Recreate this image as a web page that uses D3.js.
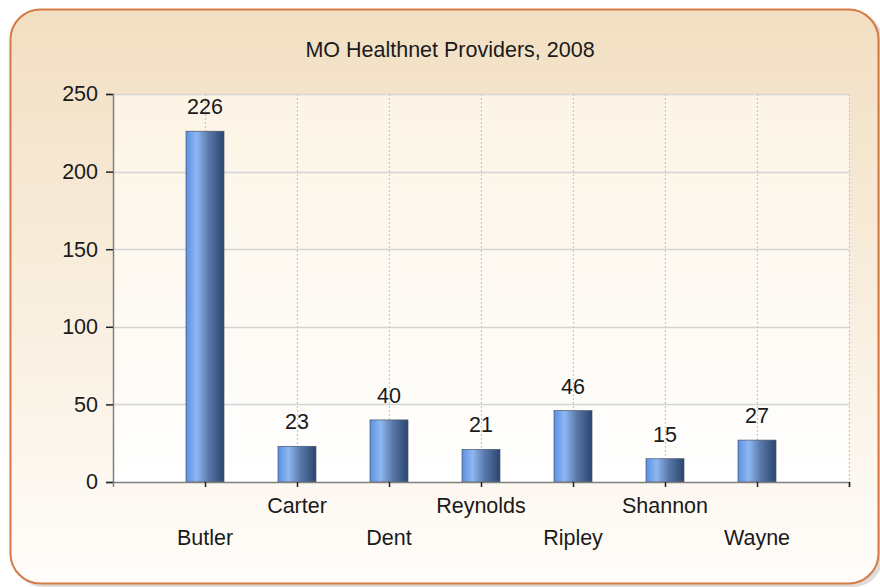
<!DOCTYPE html>
<html>
<head>
<meta charset="utf-8">
<script src="https://cdn.jsdelivr.net/npm/d3@7"></script>
<style>
  body { margin: 0; background: #fff; }
  svg { display: block; font-family: "Liberation Sans", Arial, sans-serif; }
</style>
</head>
<body>
<svg id="chart" width="880" height="587"></svg>
<script>
const title = 'MO Healthnet Providers, 2008';
const counties = ['Butler', 'Carter', 'Dent', 'Reynolds', 'Ripley', 'Shannon', 'Wayne'];
const providers = [226, 23, 40, 21, 46, 15, 27];
const yTicks = [0, 50, 100, 150, 200, 250];

const width = 880, height = 587;
const margin = { top: 94, right: 31, bottom: 105, left: 113 };
const fontSize = 21.5;

const svg = d3.select('#chart');
const defs = svg.append('defs');

// panel background
const panelGrad = defs.append('linearGradient').attr('id', 'panelGrad')
  .attr('x1', 0).attr('y1', 0).attr('x2', 0).attr('y2', 1);
panelGrad.append('stop').attr('offset', '0%').attr('stop-color', '#f2dfc2');
panelGrad.append('stop').attr('offset', '100%').attr('stop-color', '#fffdfa');

const plotGrad = defs.append('linearGradient').attr('id', 'plotGrad')
  .attr('x1', 0).attr('y1', 0).attr('x2', 0).attr('y2', 1);
plotGrad.append('stop').attr('offset', '0%').attr('stop-color', '#fcf4e5');
plotGrad.append('stop').attr('offset', '100%').attr('stop-color', '#ffffff');

const barGrad = defs.append('linearGradient').attr('id', 'barGrad')
  .attr('x1', 0).attr('y1', 0).attr('x2', 1).attr('y2', 0);
barGrad.append('stop').attr('offset', '0%').attr('stop-color', '#5b90e2');
barGrad.append('stop').attr('offset', '28%').attr('stop-color', '#8fb7f1');
barGrad.append('stop').attr('offset', '60%').attr('stop-color', '#5878a8');
barGrad.append('stop').attr('offset', '100%').attr('stop-color', '#2b4570');

// shadow under the panel
svg.append('rect')
  .attr('x', 13).attr('y', 12).attr('width', 870).attr('height', 575)
  .attr('rx', 30).attr('fill', '#c8c4c0').attr('opacity', 0.6);

svg.append('rect')
  .attr('x', 10.5).attr('y', 9.5).attr('width', 868).attr('height', 574)
  .attr('rx', 30)
  .attr('fill', 'url(#panelGrad)')
  .attr('stroke', '#d37a45').attr('stroke-width', 2);

svg.append('text')
  .attr('x', 450).attr('y', 57)
  .attr('text-anchor', 'middle')
  .attr('font-size', fontSize).attr('fill', '#1a1a1a')
  .text(title);

const x = d3.scaleLinear()
  .domain([0, counties.length + 1])
  .range([margin.left, width - margin.right]);

const y = d3.scaleLinear()
  .domain([0, 250])
  .range([height - margin.bottom, margin.top]);

const bottomY = y(0);

svg.append('rect')
  .attr('x', x(0)).attr('y', y(250))
  .attr('width', x(counties.length + 1) - x(0))
  .attr('height', y(0) - y(250))
  .attr('fill', 'url(#plotGrad)');

// horizontal grid
svg.append('g').selectAll('line')
  .data(yTicks.slice(1))
  .join('line')
  .attr('x1', x(0)).attr('x2', x(counties.length + 1))
  .attr('y1', d => Math.round(y(d)) + 0.5).attr('y2', d => Math.round(y(d)) + 0.5)
  .attr('stroke', '#d4d4d4').attr('stroke-width', 1.5);

// vertical dotted grid
const xGrid = d3.range(1, counties.length + 2);
svg.append('g').selectAll('line')
  .data(xGrid)
  .join('line')
  .attr('x1', d => Math.round(x(d)) + 0.5).attr('x2', d => Math.round(x(d)) + 0.5)
  .attr('y1', y(250)).attr('y2', bottomY)
  .attr('stroke', '#c8c8c8').attr('stroke-width', 1.2)
  .attr('stroke-dasharray', '2,2');

// bars
const barW = 38;
svg.append('g').selectAll('rect')
  .data(providers)
  .join('rect')
  .attr('x', (d, i) => x(i + 1) - barW / 2)
  .attr('y', d => y(d))
  .attr('width', barW)
  .attr('height', d => bottomY - y(d))
  .attr('fill', 'url(#barGrad)')
  .attr('stroke', '#4a5668').attr('stroke-width', 0.7);

// value labels
svg.append('g').selectAll('text')
  .data(providers)
  .join('text')
  .attr('x', (d, i) => x(i + 1))
  .attr('y', d => y(d) - 17)
  .attr('text-anchor', 'middle')
  .attr('font-size', fontSize).attr('fill', '#1a1a1a')
  .text(d => d);

// y axis
const yAxis = svg.append('g')
  .attr('transform', `translate(${x(0)},0)`)
  .call(d3.axisLeft(y).tickValues(yTicks).tickSize(7).tickPadding(8));
yAxis.select('.domain').attr('stroke', '#808080').attr('stroke-width', 1.5);
yAxis.selectAll('.tick line').attr('stroke', '#222').attr('stroke-width', 1.5);
yAxis.selectAll('.tick text')
  .attr('font-size', fontSize).attr('fill', '#1a1a1a')
  .attr('font-family', '"Liberation Sans", Arial, sans-serif');

// x axis
const xAxis = svg.append('g')
  .attr('transform', `translate(0,${bottomY})`)
  .call(d3.axisBottom(x).tickValues(xGrid).tickSize(5).tickFormat(''));
xAxis.select('.domain').attr('stroke', '#808080').attr('stroke-width', 1.5);
xAxis.selectAll('.tick line').attr('stroke', '#222').attr('stroke-width', 1.5);

// staggered category labels
svg.append('g').selectAll('text')
  .data(counties)
  .join('text')
  .attr('x', (d, i) => x(i + 1))
  .attr('y', (d, i) => bottomY + (i % 2 ? 31 : 63))
  .attr('text-anchor', 'middle')
  .attr('font-size', fontSize).attr('fill', '#1a1a1a')
  .text(d => d);
</script>
</body>
</html>
